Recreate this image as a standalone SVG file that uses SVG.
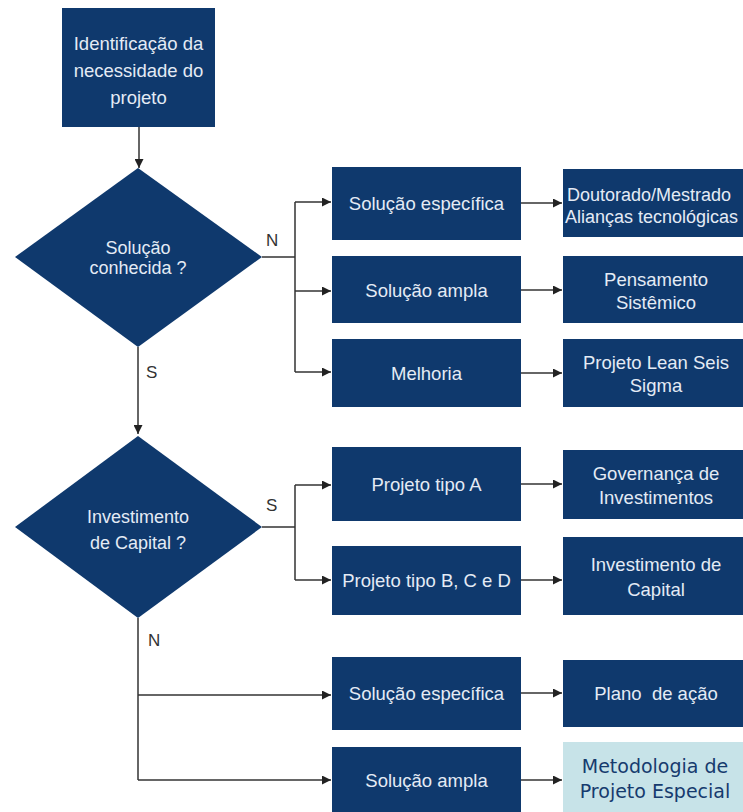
<svg xmlns="http://www.w3.org/2000/svg" width="743" height="812" viewBox="0 0 743 812">
  <defs>
    <marker id="arrow" viewBox="0 0 10 10" refX="10" refY="5" markerWidth="9" markerHeight="9" markerUnits="userSpaceOnUse" orient="auto">
      <path d="M0,0 L10,5 L0,10 z" fill="#222"/>
    </marker>
    <style>
      .box { fill: #0f396d; }
      .light { fill: #c7e3e8; }
      .t { font-family: "Liberation Sans", Arial, sans-serif; font-size: 18.5px; fill: #e4ebf5; text-anchor: middle; }
      .dt { font-family: "Liberation Sans", Arial, sans-serif; font-size: 18px; fill: #e4ebf5; text-anchor: middle; }
      .ts { font-family: "Liberation Sans", Arial, sans-serif; font-size: 18px; fill: #e4ebf5; }
      .td { font-family: "DejaVu Sans", Verdana, sans-serif; font-size: 19px; fill: #163b6e; text-anchor: middle; }
      .lbl { font-family: "Liberation Sans", Arial, sans-serif; font-size: 17px; fill: #333; }
      .c { fill: none; stroke: #333; stroke-width: 1.5; }
      .a { marker-end: url(#arrow); }
    </style>
  </defs>
  <rect width="743" height="812" fill="#ffffff"/>

  <!-- connectors -->
  <g id="connectors">
    <path class="c a" d="M139,127 V168"/>
    <path class="c" d="M262,257 H295 M295,202 V372"/>
    <path class="c a" d="M295,202 H331"/>
    <path class="c a" d="M295,291 H331"/>
    <path class="c a" d="M295,372 H331"/>
    <path class="c a" d="M521,203 H562"/>
    <path class="c a" d="M521,290 H562"/>
    <path class="c a" d="M521,373 H562"/>
    <path class="c a" d="M138,347 V434"/>
    <path class="c" d="M262,527 H295 M295,485 V580"/>
    <path class="c a" d="M295,485 H331"/>
    <path class="c a" d="M295,580 H331"/>
    <path class="c a" d="M521,484 H562"/>
    <path class="c a" d="M521,580 H562"/>
    <path class="c" d="M138,618 V780"/>
    <path class="c a" d="M138,695 H331"/>
    <path class="c a" d="M138,780 H331"/>
    <path class="c a" d="M521,693 H562"/>
    <path class="c a" d="M521,780 H562"/>
    <text class="lbl" x="266" y="246">N</text>
    <text class="lbl" x="146" y="378">S</text>
    <text class="lbl" x="266" y="511">S</text>
    <text class="lbl" x="148" y="646">N</text>
  </g>

  <g id="start">
    <rect class="box" x="62" y="8" width="153" height="119"/>
    <text class="t" x="138.5" y="50">Identificação da</text>
    <text class="t" x="138.5" y="77">necessidade do</text>
    <text class="t" x="138.5" y="104">projeto</text>
  </g>

  <g id="decision-solucao">
    <polygon class="box" points="138,168 262,257 138,347 15,257"/>
    <text class="dt" x="138" y="254">Solução</text>
    <text class="dt" x="138" y="274">conhecida ?</text>
  </g>

  <g id="decision-investimento">
    <polygon class="box" points="138,436 262,527 138,618 15,527"/>
    <text class="dt" x="138" y="523">Investimento</text>
    <text class="dt" x="138" y="549">de Capital ?</text>
  </g>

  <g id="solucao-especifica-1">
    <rect class="box" x="332" y="167" width="189" height="73"/>
    <text class="t" x="426.5" y="210">Solução específica</text>
  </g>
  <g id="solucao-ampla-1">
    <rect class="box" x="332" y="256" width="189" height="67"/>
    <text class="t" x="426.5" y="297">Solução ampla</text>
  </g>
  <g id="melhoria">
    <rect class="box" x="332" y="339" width="189" height="68"/>
    <text class="t" x="426.5" y="380">Melhoria</text>
  </g>

  <g id="doutorado">
    <rect class="box" x="563" y="169" width="190" height="68"/>
    <text class="ts" x="567" y="201">Doutorado/Mestrado</text>
    <text class="ts" x="565" y="223">Alianças tecnológicas</text>
  </g>
  <g id="pensamento">
    <rect class="box" x="563" y="256" width="190" height="67"/>
    <text class="t" x="656" y="286">Pensamento</text>
    <text class="t" x="656" y="309">Sistêmico</text>
  </g>
  <g id="lean">
    <rect class="box" x="563" y="339" width="190" height="68"/>
    <text class="t" x="656" y="369">Projeto Lean Seis</text>
    <text class="t" x="656" y="392">Sigma</text>
  </g>

  <g id="tipo-a">
    <rect class="box" x="332" y="447" width="189" height="74"/>
    <text class="t" x="426.5" y="491">Projeto tipo A</text>
  </g>
  <g id="tipo-bcd">
    <rect class="box" x="332" y="546" width="189" height="69"/>
    <text class="t" x="426.5" y="587">Projeto tipo B, C e D</text>
  </g>
  <g id="governanca">
    <rect class="box" x="563" y="450" width="190" height="69"/>
    <text class="t" x="656" y="480">Governança de</text>
    <text class="t" x="656" y="504">Investimentos</text>
  </g>
  <g id="investimento-capital">
    <rect class="box" x="563" y="537" width="190" height="78"/>
    <text class="t" x="656" y="571">Investimento de</text>
    <text class="t" x="656" y="596">Capital</text>
  </g>

  <g id="solucao-especifica-2">
    <rect class="box" x="332" y="657" width="189" height="73"/>
    <text class="t" x="426.5" y="700">Solução específica</text>
  </g>
  <g id="solucao-ampla-2">
    <rect class="box" x="332" y="747" width="189" height="70"/>
    <text class="t" x="426.5" y="787">Solução ampla</text>
  </g>
  <g id="plano">
    <rect class="box" x="563" y="660" width="190" height="67"/>
    <text class="t" x="656" y="700" xml:space="preserve">Plano  de ação</text>
  </g>
  <g id="metodologia">
    <rect class="light" x="563" y="742" width="190" height="75"/>
    <text class="td" x="655" y="773">Metodologia de</text>
    <text class="td" x="655" y="798">Projeto Especial</text>
  </g>
</svg>
